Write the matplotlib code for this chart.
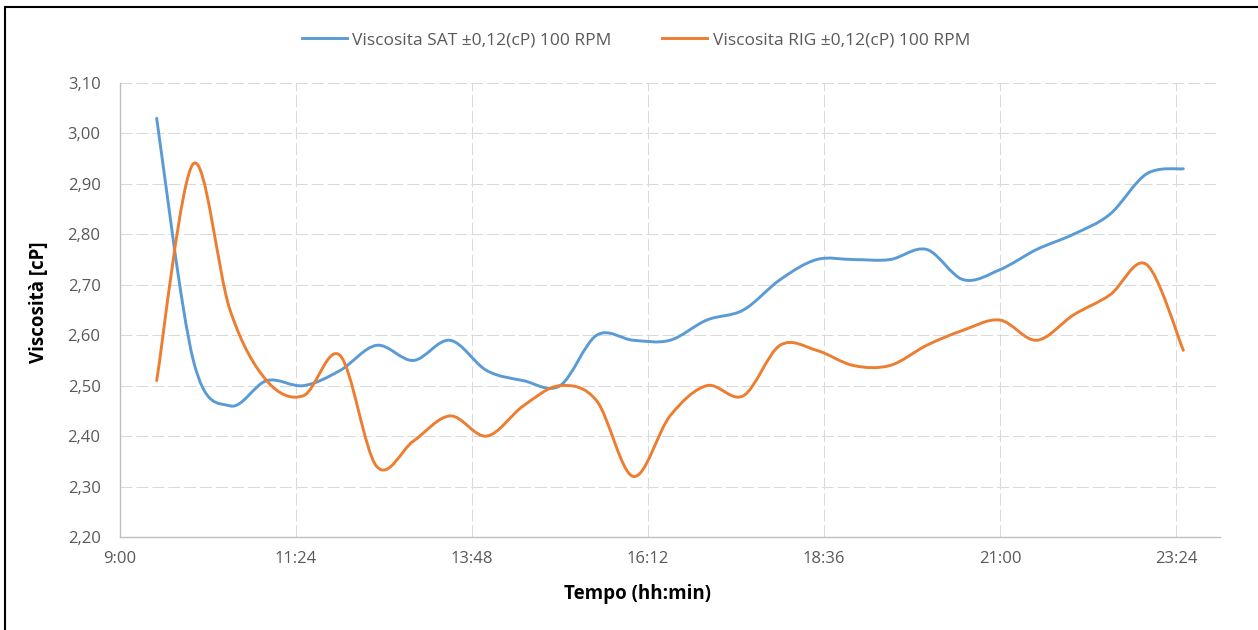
import numpy as np
import matplotlib
matplotlib.use("Agg")
import matplotlib.pyplot as plt
from matplotlib.path import Path
from matplotlib.patches import PathPatch, Rectangle
from matplotlib.lines import Line2D
from matplotlib.ticker import FuncFormatter, MultipleLocator

plt.rcParams["font.family"] = ["Open Sans", "DejaVu Sans"]

# ── Data ──────────────────────────────────────────────────────────────────────
TIMES = ["9:30", "10:00", "10:30", "11:00", "11:30", "12:00", "12:30", "13:00",
         "13:30", "14:00", "14:30", "15:00", "15:30", "16:00", "16:30", "17:00",
         "17:30", "18:00", "18:30", "19:00", "19:30", "20:00", "20:30", "21:00",
         "21:30", "22:00", "22:30", "23:00", "23:30"]
SAT = [3.03, 2.55, 2.46, 2.51, 2.50, 2.53, 2.58, 2.55, 2.59, 2.53, 2.51, 2.50,
       2.60, 2.59, 2.59, 2.63, 2.65, 2.71, 2.75, 2.75, 2.75, 2.77, 2.71, 2.73,
       2.77, 2.80, 2.84, 2.92, 2.93]
RIG = [2.51, 2.94, 2.65, 2.51, 2.48, 2.56, 2.34, 2.39, 2.44, 2.40, 2.46, 2.50,
       2.47, 2.32, 2.44, 2.50, 2.48, 2.58, 2.57, 2.54, 2.54, 2.58, 2.61, 2.63,
       2.59, 2.64, 2.68, 2.74, 2.57]

LABEL_SAT = "Viscosita SAT ±0,12(cP) 100 RPM"
LABEL_RIG = "Viscosita RIG ±0,12(cP) 100 RPM"
COL_SAT = "#5B9BD5"
COL_RIG = "#ED7D31"


def day_frac(hhmm):
    h, m = hhmm.split(":")
    return (int(h) * 60 + int(m)) / 1440.0


def fmt_time(v, _pos):
    mins = int(round(v * 1440))
    return f"{mins // 60}:{mins % 60:02d}"


def smooth_path(xs, ys, k=1 / 6):
    """Excel-like smoothed line: cubic Bezier through every point."""
    p = np.column_stack([xs, ys])
    n = len(p)
    verts, codes = [tuple(p[0])], [Path.MOVETO]
    for i in range(n - 1):
        p0 = p[i - 1] if i > 0 else p[i]
        p3 = p[i + 2] if i + 2 < n else p[i + 1]
        c1 = p[i] + (p[i + 1] - p0) * k
        c2 = p[i + 1] - (p3 - p[i]) * k
        verts += [tuple(c1), tuple(c2), tuple(p[i + 1])]
        codes += [Path.CURVE4] * 3
    return Path(verts, codes)


x = np.array([day_frac(t) for t in TIMES])

# ── Figure ────────────────────────────────────────────────────────────────────
fig = plt.figure(figsize=(12.58, 6.30), dpi=100)
ax = fig.add_axes([120 / 1258, 1 - 537 / 630, 1100 / 1258, 454 / 630])

for ys, col in [(SAT, COL_SAT), (RIG, COL_RIG)]:
    ax.add_patch(PathPatch(smooth_path(x, ys), fill=False, edgecolor=col,
                           lw=2.1, capstyle="round", joinstyle="round",
                           zorder=3))

ax.set_xlim(0.375, 1.0)
ax.set_ylim(2.2, 3.1)
ax.set_xticks(np.arange(0.375, 0.98, 0.1))
ax.yaxis.set_major_locator(MultipleLocator(0.1))
ax.xaxis.set_major_formatter(FuncFormatter(fmt_time))
ax.yaxis.set_major_formatter(
    FuncFormatter(lambda v, _p: f"{v:.2f}".replace(".", ",")))
ax.tick_params(length=0, labelsize=12, labelcolor="#595959")
ax.tick_params(axis="y", pad=14)
ax.tick_params(axis="x", pad=10)

ax.grid(True, color="#D9D9D9", lw=0.75, linestyle=(0, (11.5, 3.8)))
ax.set_axisbelow(True)
for side in ["top", "right"]:
    ax.spines[side].set_visible(False)
for side in ["left", "bottom"]:
    ax.spines[side].set_color("#BFBFBF")
    ax.spines[side].set_linewidth(1.0)

fig.text(39 / 1258, 1 - 302 / 630, "Viscosità [cP]", rotation=90,
         ha="center", va="center", fontsize=13.5, fontweight="bold")
fig.text(637 / 1258, 1 - 594 / 630, "Tempo (hh:min)",
         ha="center", va="center", fontsize=13.5, fontweight="bold")

handles = [Line2D([], [], color=COL_SAT, lw=2.1),
           Line2D([], [], color=COL_RIG, lw=2.1)]
leg = fig.legend(handles, [LABEL_SAT, LABEL_RIG], loc="center",
                 bbox_to_anchor=(636 / 1258, 1 - 40 / 630), ncol=2,
                 frameon=False, fontsize=12.5, handlelength=2.6,
                 handletextpad=0.3, columnspacing=2.9)
for t in leg.get_texts():
    t.set_color("#595959")

# outer chart border (left and top edges visible)
fig.add_artist(Rectangle((5 / 1258, -0.1), 1.2, 1.1 - 7 / 630,
                         transform=fig.transFigure, fill=False,
                         edgecolor="black", lw=1.5, clip_on=False))

fig.savefig("out.png", dpi=100)
